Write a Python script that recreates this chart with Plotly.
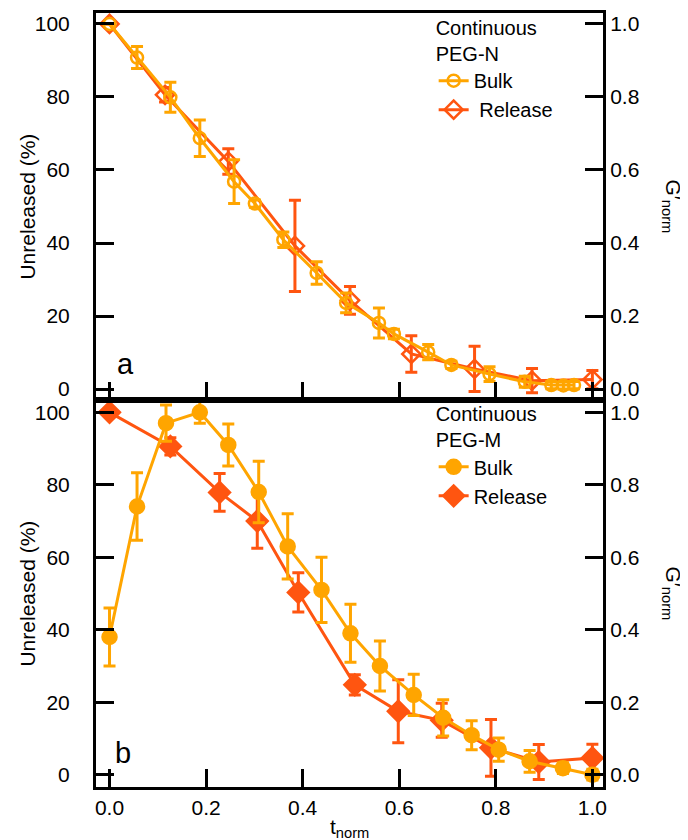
import plotly.graph_objects as go

# ---------------- data ----------------
# Panel a: Continuous PEG-N
a_bulk_t = [0.0, 0.057, 0.126, 0.187, 0.258, 0.301, 0.36, 0.429, 0.49, 0.558, 0.589, 0.66, 0.708, 0.787, 0.86, 0.915, 0.94, 0.962]
a_bulk_v = [100, 90.8, 79.9, 68.7, 56.8, 50.8, 40.9, 31.8, 23.6, 18.1, 15.1, 10.1, 6.6, 4.1, 2.0, 1.1, 1.0, 1.1]
a_bulk_e = [0, 3.0, 4.1, 5.0, 6.0, 1.0, 2.1, 3.1, 2.7, 4.1, 1.3, 2.1, 1.0, 2.0, 1.5, 1.0, 1.0, 1.0]

a_rel_t = [0.0, 0.115, 0.246, 0.384, 0.498, 0.625, 0.756, 0.875, 1.0]
a_rel_v = [100, 80.6, 62.3, 39.2, 24.3, 9.6, 5.5, 2.3, 2.6]
a_rel_e = [0, 2.0, 3.5, 12.5, 3.8, 5.0, 6.2, 3.3, 2.5]

# Panel b: Continuous PEG-M
b_bulk_t = [0.0, 0.057, 0.117, 0.187, 0.246, 0.309, 0.369, 0.439, 0.499, 0.56, 0.63, 0.691, 0.75, 0.806, 0.87, 0.939, 1.0]
b_bulk_v = [38, 74, 97, 100, 91, 78, 63, 51, 39, 30, 22, 15.7, 10.9, 6.9, 3.7, 1.8, 0.0]
b_bulk_e = [8, 9.3, 5, 3, 5.8, 8.5, 9, 9, 8, 6.9, 5.7, 5, 4, 3.2, 3, 1.5, 1.5]

b_rel_t = [0.0, 0.126, 0.228, 0.306, 0.391, 0.508, 0.598, 0.688, 0.79, 0.889, 1.0]
b_rel_v = [100, 90.6, 77.9, 70.0, 50.3, 24.8, 17.5, 15.0, 7.4, 3.5, 4.6]
b_rel_e = [0, 2.4, 5.2, 7.5, 5.4, 2.8, 8.7, 4.7, 7.8, 4.8, 3.8]

x_ticks = [0.0, 0.2, 0.4, 0.6, 0.8, 1.0]
x_tick_text = ["0.0", "0.2", "0.4", "0.6", "0.8", "1.0"]
y_left_ticks = [0, 20, 40, 60, 80, 100]
y_right_ticks = [0.0, 0.2, 0.4, 0.6, 0.8, 1.0]
y_right_text = ["0.0", "0.2", "0.4", "0.6", "0.8", "1.0"]

BULK = "#FFA500"
REL = "#FF5510"
FONT = "Arial, Liberation Sans, sans-serif"

fig = go.Figure()

def add(t, v, e, color, symbol, name, xa, ya, legend, size):
    fig.add_trace(go.Scatter(
        x=t, y=v, mode="lines+markers", name=name,
        line=dict(color=color, width=3),
        marker=dict(symbol=symbol, size=size, color=color, line=dict(color=color, width=2.5)),
        error_y=dict(type="data", array=e, visible=True, color=color, thickness=3, width=6),
        xaxis=xa, yaxis=ya, legend=legend,
    ))

# panel a (top)
add(a_rel_t, a_rel_v, a_rel_e, REL, "diamond-open", "\u00a0Release", "x2", "y2", "legend", 14)
add(a_bulk_t, a_bulk_v, a_bulk_e, BULK, "circle-open", "Bulk", "x2", "y2", "legend", 12)
# panel b (bottom)
add(b_rel_t, b_rel_v, b_rel_e, REL, "diamond", "Release", "x", "y", "legend2", 16)
add(b_bulk_t, b_bulk_v, b_bulk_e, BULK, "circle", "Bulk", "x", "y", "legend2", 14)

# dummy traces to register right axes
fig.add_trace(go.Scatter(x=[None], y=[None], xaxis="x", yaxis="y3", showlegend=False))
fig.add_trace(go.Scatter(x=[None], y=[None], xaxis="x2", yaxis="y4", showlegend=False))

tickfont = dict(family=FONT, size=21, color="black")
axcommon = dict(showline=True, linecolor="black", linewidth=3, ticks="inside",
                ticklen=18, tickwidth=3, tickcolor="black", showgrid=False,
                zeroline=False, tickfont=tickfont)

xr = [-0.028, 1.022]
LEGFONT = dict(family=FONT, size=20, color="black")
fig.update_layout(
    width=688, height=840,
    margin=dict(l=88, r=93, t=5, b=61, autoexpand=False),
    paper_bgcolor="white", plot_bgcolor="white",
    font=dict(family=FONT, size=21, color="black"),
    xaxis=dict(domain=[0, 1], anchor="y", range=xr, tickvals=x_ticks,
               ticktext=x_tick_text, mirror=True, **axcommon),
    xaxis2=dict(domain=[0, 1], anchor="y2", range=xr, tickvals=x_ticks,
                showticklabels=False, mirror=True, **axcommon),
    yaxis=dict(domain=[0, 0.5], anchor="x", range=[-3.4, 103.4], tickvals=y_left_ticks,
               ticklabelstandoff=19, **axcommon),
    yaxis2=dict(domain=[0.5, 1], anchor="x2", range=[-3, 103], tickvals=y_left_ticks,
                ticklabelstandoff=19, **axcommon),
    yaxis3=dict(overlaying="y", side="right", anchor="x", range=[-0.034, 1.034],
                tickvals=y_right_ticks, ticktext=y_right_text, **axcommon),
    yaxis4=dict(overlaying="y2", side="right", anchor="x2", range=[-0.03, 1.03],
                tickvals=y_right_ticks, ticktext=y_right_text, **axcommon),
    legend=dict(x=0.666, y=1.005, xanchor="left", yanchor="top", bgcolor="rgba(0,0,0,0)",
                title=dict(text="Continuous<br>PEG-N", font=LEGFONT),
                font=LEGFONT, traceorder="reversed", tracegroupgap=0),
    legend2=dict(x=0.666, y=0.506, xanchor="left", yanchor="top", bgcolor="rgba(0,0,0,0)",
                 title=dict(text="Continuous<br>PEG-M", font=LEGFONT),
                 font=LEGFONT, traceorder="reversed", tracegroupgap=0),
    showlegend=True,
)

ann = []
ann.append(dict(text="a", x=0.059, y=0.547, xref="paper", yref="paper", showarrow=False,
                font=dict(family=FONT, size=29), xanchor="center", yanchor="middle"))
ann.append(dict(text="b", x=0.053, y=0.044, xref="paper", yref="paper", showarrow=False,
                font=dict(family=FONT, size=29), xanchor="center", yanchor="middle"))
for yc in [0.75, 0.25]:
    ann.append(dict(text="Unreleased (%)", x=-0.136, y=yc, xref="paper", yref="paper",
                    showarrow=False, textangle=-90, font=dict(family=FONT, size=21),
                    xanchor="center", yanchor="middle"))
    ann.append(dict(text="G\u2032<sub>norm</sub>", x=1.138, y=yc, xref="paper", yref="paper",
                    showarrow=False, textangle=90, font=dict(family=FONT, size=21),
                    xanchor="center", yanchor="middle"))
ann.append(dict(text="t<sub>norm</sub>", x=0.5, y=-0.034, xref="paper", yref="paper",
                showarrow=False, font=dict(family=FONT, size=21), xanchor="center", yanchor="top"))
fig.update_layout(annotations=ann)

fig.write_html("out.html")
